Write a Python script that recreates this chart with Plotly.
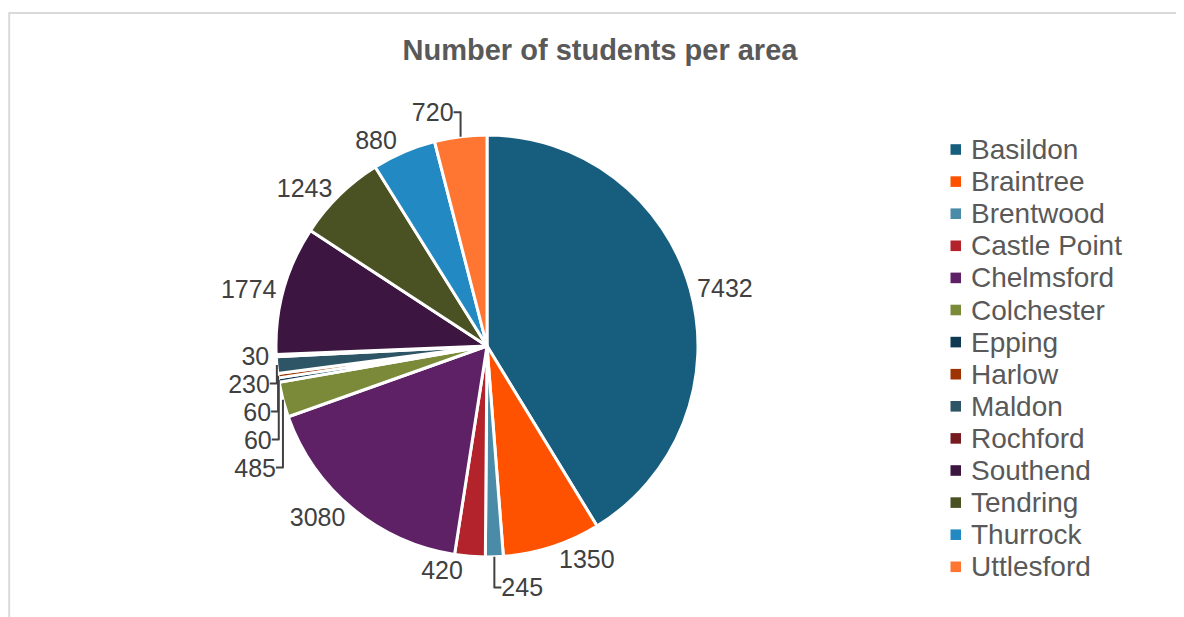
import plotly.graph_objects as go

areas = ["Basildon", "Braintree", "Brentwood", "Castle Point", "Chelmsford", "Colchester",
         "Epping", "Harlow", "Maldon", "Rochford", "Southend", "Tendring", "Thurrock", "Uttlesford"]
students = [7432, 1350, 245, 420, 3080, 485, 60, 60, 230, 30, 1774, 1243, 880, 720]
colors = ["#175E7E", "#FF5200", "#4A8CA8", "#B2232B", "#5E2166", "#7A8A39",
          "#0F3A52", "#9C3300", "#2E5566", "#761B20", "#3C1540", "#4A5223", "#2289C2", "#FF7532"]

W, H = 1184, 617
OFF = 8  # page body margin offset


def px(x):
    return (x - OFF) / W


def py(y):
    return 1 - (y - OFF) / H


cx, cy, r = 487, 346, 211
FONT = "Liberation Sans, Arial, sans-serif"

fig = go.Figure(go.Pie(
    labels=areas,
    values=students,
    sort=False,
    direction="clockwise",
    rotation=0,
    marker=dict(colors=colors, line=dict(color="white", width=3)),
    textinfo="value",
    textposition="outside",
    textfont=dict(family=FONT, size=25, color="#404040"),
    domain=dict(x=[px(cx - r), px(cx + r)], y=[py(cy + r), py(cy - r)]),
    automargin=False,
    showlegend=False,
))

# chart border + legend drawn as squares + text
shapes = [dict(type="rect", xref="paper", yref="paper", x0=1.2 / W, x1=1.2, y0=-0.2, y1=py(13),
               line=dict(color="#D9D9D9", width=2), layer="below")]
annotations = []
ly0, lstep = 149.5, 32.1
for i, (name, col) in enumerate(zip(areas, colors)):
    yc = ly0 + i * lstep
    shapes.append(dict(type="rect", xref="paper", yref="paper",
                       x0=px(950.5), x1=px(961), y0=py(yc + 5.3), y1=py(yc - 5.3),
                       fillcolor=col, line=dict(width=0)))
    annotations.append(dict(text=name, xref="paper", yref="paper", x=px(969), y=py(yc),
                            xanchor="left", yanchor="middle", showarrow=False,
                            font=dict(family=FONT, size=28, color="#595959")))

fig.update_layout(
    width=W, height=H,
    margin=dict(l=0, r=0, t=0, b=0),
    paper_bgcolor="white",
    showlegend=False,
    title=dict(text="<b>Number of students per area</b>", x=px(600), xanchor="center",
               y=py(50), yanchor="middle",
               font=dict(family=FONT, size=29, color="#595959")),
    shapes=shapes,
    annotations=annotations,
)

fig.write_html("out.html")
